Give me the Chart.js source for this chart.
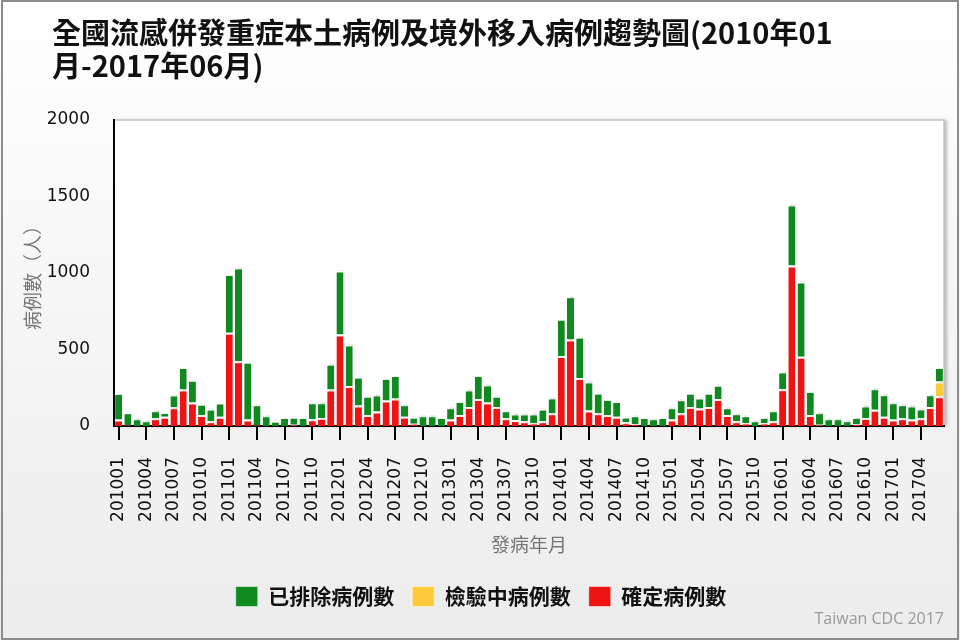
<!DOCTYPE html>
<html>
<head>
<meta charset="utf-8">
<title>全國流感併發重症本土病例及境外移入病例趨勢圖</title>
<script src="https://cdn.jsdelivr.net/npm/chart.js@4.4.1/dist/chart.umd.min.js"></script>
<style>
  html, body { margin: 0; padding: 0; background: #fff; }
  #wrap { width: 960px; height: 640px; }
</style>
</head>
<body>
<div id="wrap"><canvas id="trendChart" width="960" height="640"></canvas></div>
<script>
//Months of onset (發病年月), one bar per month
const months = [
  "201001", "201002", "201003", "201004", "201005", "201006", "201007", "201008", "201009", "201010", "201011", "201012",
  "201101", "201102", "201103", "201104", "201105", "201106", "201107", "201108", "201109", "201110", "201111", "201112",
  "201201", "201202", "201203", "201204", "201205", "201206", "201207", "201208", "201209", "201210", "201211", "201212",
  "201301", "201302", "201303", "201304", "201305", "201306", "201307", "201308", "201309", "201310", "201311", "201312",
  "201401", "201402", "201403", "201404", "201405", "201406", "201407", "201408", "201409", "201410", "201411", "201412",
  "201501", "201502", "201503", "201504", "201505", "201506", "201507", "201508", "201509", "201510", "201511", "201512",
  "201601", "201602", "201603", "201604", "201605", "201606", "201607", "201608", "201609", "201610", "201611", "201612",
  "201701", "201702", "201703", "201704", "201705", "201706"
];

//確定病例數 (confirmed, red, bottom of each stack)
const confirmed = [
  42, 5, 0, 0, 50, 61, 123, 239, 153, 72, 31, 61,
  609, 423, 42, 5, 0, 0, 0, 8, 0, 44, 53, 239,
  598, 261, 134, 72, 94, 166, 180, 61, 15, 0, 0, 0,
  42, 72, 125, 177, 153, 125, 50, 40, 31, 18, 31, 83,
  458, 565, 313, 101, 83, 72, 61, 24, 13, 0, 0, 0,
  42, 83, 125, 114, 125, 177, 72, 31, 18, 0, 18, 31,
  241, 1049, 453, 72, 8, 0, 0, 0, 13, 53, 107, 61,
  42, 50, 42, 50, 125, 195
];

//檢驗中病例數 (still being tested, yellow)
const testing = [
  0, 0, 0, 0, 0, 0, 0, 0, 0, 0, 0, 0,
  0, 0, 0, 0, 0, 0, 0, 0, 0, 0, 0, 0,
  0, 0, 0, 0, 0, 0, 0, 0, 0, 0, 0, 0,
  0, 0, 0, 0, 0, 0, 0, 0, 0, 0, 0, 0,
  0, 0, 0, 0, 0, 0, 0, 0, 0, 0, 0, 0,
  0, 0, 0, 0, 0, 0, 0, 0, 0, 0, 0, 0,
  0, 0, 0, 0, 0, 0, 0, 0, 0, 0, 0, 0,
  0, 0, 0, 0, 0, 96
];

//已排除病例數 (excluded, green, top of each stack)
const excluded = [
  173, 85, 50, 37, 53, 31, 83, 146, 149, 73, 81, 92,
  385, 613, 378, 137, 70, 35, 59, 53, 59, 111, 102, 168,
  418, 271, 188, 125, 112, 147, 153, 81, 46, 70, 70, 59,
  81, 92, 114, 156, 119, 72, 53, 42, 50, 63, 81, 103,
  243, 283, 270, 190, 134, 105, 103, 37, 57, 59, 50, 59,
  81, 92, 92, 72, 92, 92, 51, 52, 52, 37, 41, 72,
  116, 399, 491, 156, 82, 50, 50, 37, 46, 81, 140, 147,
  113, 92, 92, 64, 83, 94
];

const yTicks = [0, 500, 1000, 1500, 2000];

const titleLines = ["全國流感併發重症本土病例及境外移入病例趨勢圖(2010年01", "月-2017年06月)"];
const sourceNote = "Taiwan CDC 2017";

const cjkFont = '"Noto Sans CJK TC", "Noto Sans CJK SC", sans-serif';
const numFont = '"DejaVu Sans", sans-serif';

//Background, plot frame, bar shadows and the source note
const pageFrame = {
  id: "pageFrame",
  afterLayout(chart) {
    //title starts further in, legend sits a bit left of centre in the original
    chart.titleBlock.left += 32;
    chart.legend.left -= 1;
    chart.legend.right -= 1;
  },
  beforeDraw(chart) {
    const ctx = chart.ctx;
    const a = chart.chartArea;
    ctx.save();
    const g = ctx.createLinearGradient(0, 0, 0, chart.height);
    g.addColorStop(0, "#ffffff");
    g.addColorStop(1, "#ececec");
    ctx.fillStyle = g;
    ctx.fillRect(0, 0, chart.width, chart.height);

    ctx.shadowColor = "rgba(0,0,0,0.25)";
    ctx.shadowBlur = 3;
    ctx.shadowOffsetX = 3;
    ctx.fillStyle = "#fff";
    ctx.fillRect(a.left, a.top, a.right - a.left, a.bottom - a.top);
    ctx.shadowColor = "transparent";
    ctx.strokeStyle = "#c4c4c4";
    ctx.lineWidth = 1.5;
    ctx.strokeRect(a.left, a.top, a.right - a.left, a.bottom - a.top);

    ctx.strokeStyle = "#8c8c8c";
    ctx.lineWidth = 2;
    ctx.strokeRect(2, 1, chart.width - 4, chart.height - 2);
    ctx.restore();
  },
  beforeDatasetsDraw(chart) {
    const ctx = chart.ctx;
    ctx.save();
    ctx.shadowColor = "rgba(0,0,0,0.18)";
    ctx.shadowBlur = 1;
    ctx.shadowOffsetX = 2;
    ctx.shadowOffsetY = -1;
  },
  afterDatasetsDraw(chart) {
    chart.ctx.restore();
  },
  afterDraw(chart) {
    const ctx = chart.ctx;
    ctx.save();
    ctx.font = '16px "Open Sans", sans-serif';
    ctx.fillStyle = "#9a9a9a";
    ctx.textAlign = "right";
    ctx.textBaseline = "middle";
    ctx.fillText(sourceNote, chart.chartArea.right, 619);
    ctx.restore();
  }
};

const barStyle = {
  borderColor: "#ffffff",
  borderWidth: { top: 2, right: 0, bottom: 0, left: 0 },
  borderSkipped: "start",
  barPercentage: 0.76,
  categoryPercentage: 1.0
};

new Chart(document.getElementById("trendChart"), {
  type: "bar",
  data: {
    labels: months,
    datasets: [
      { label: "確定病例數", data: confirmed, backgroundColor: "#ee1414", ...barStyle },
      { label: "檢驗中病例數", data: testing, backgroundColor: "#fdcb3a", ...barStyle },
      { label: "已排除病例數", data: excluded, backgroundColor: "#0e8a1e", ...barStyle }
    ]
  },
  options: {
    responsive: false,
    animation: false,
    layout: { padding: { left: 20, right: 16, top: 0, bottom: 23 } },
    scales: {
      x: {
        stacked: true,
        afterFit(scale) { scale.height = 142; },
        grid: {
          display: true,
          drawOnChartArea: false,
          drawTicks: true,
          tickLength: 14,
          offset: false,
          color: "#000",
          lineWidth: 2
        },
        border: { display: true, color: "#000", width: 2 },
        ticks: {
          autoSkip: false,
          minRotation: 90,
          maxRotation: 90,
          padding: 17,
          color: "#111",
          font: { family: numFont, size: 17 },
          callback: (value, index) => (index % 3 === 0 ? months[index] : null)
        },
        title: {
          display: true,
          text: "發病年月",
          color: "#777",
          font: { family: cjkFont, size: 19 },
          padding: { top: 0, bottom: 12 }
        }
      },
      y: {
        stacked: true,
        min: yTicks[0],
        max: yTicks[yTicks.length - 1],
        afterFit(scale) { scale.width = 94; },
        afterBuildTicks(scale) { scale.ticks = yTicks.map((v) => ({ value: v })); },
        grid: { display: false, drawTicks: false },
        border: { display: true, color: "#000", width: 2 },
        ticks: {
          padding: 24,
          color: "#111",
          font: { family: numFont, size: 17 },
          callback: (value) => String(value)
        },
        title: {
          display: true,
          text: "病例數（人）",
          color: "#777",
          font: { family: cjkFont, size: 19 },
          padding: { top: 1, bottom: 0 }
        }
      }
    },
    plugins: {
      title: {
        display: true,
        text: titleLines,
        align: "start",
        color: "#111",
        font: { family: cjkFont, size: 29, weight: "bold", lineHeight: 33 / 29 },
        padding: { top: 16, bottom: 38 }
      },
      legend: {
        position: "bottom",
        reverse: true,
        labels: {
          boxWidth: 22,
          boxHeight: 20,
          padding: 18,
          color: "#111",
          font: { family: cjkFont, size: 21, weight: "bold" }
        }
      },
      tooltip: { enabled: false }
    }
  },
  plugins: [pageFrame]
});
</script>
</body>
</html>
